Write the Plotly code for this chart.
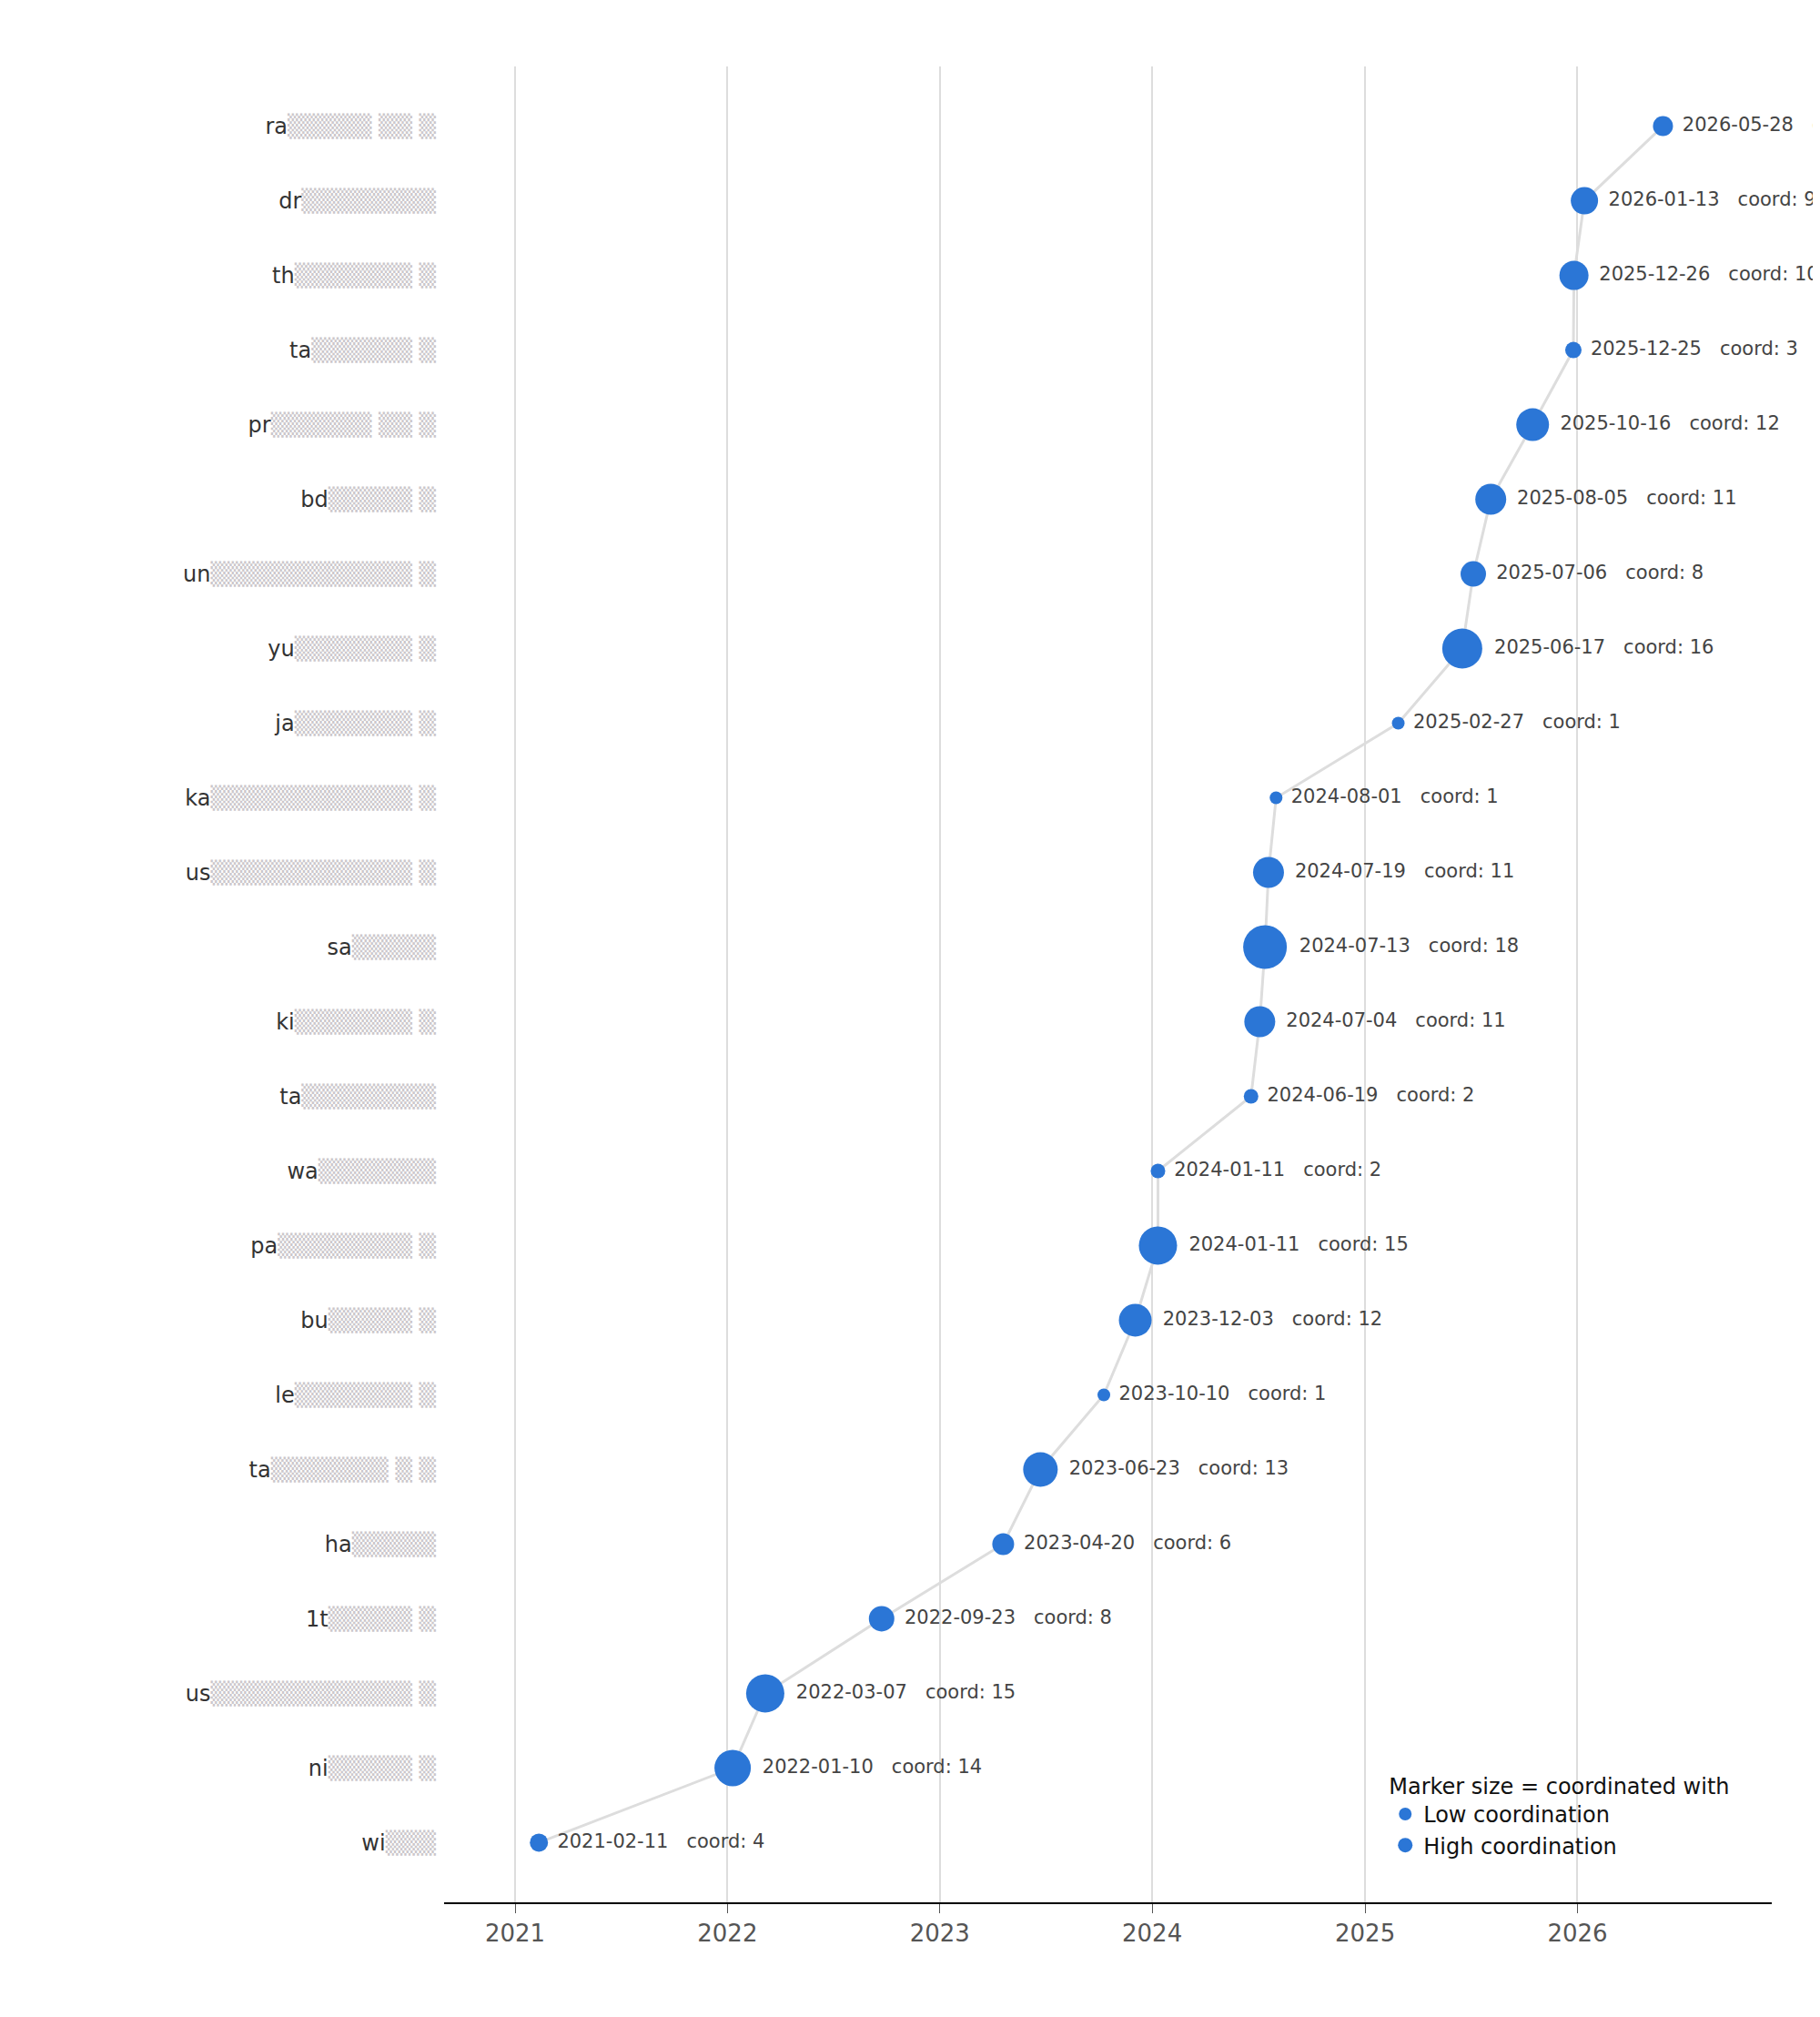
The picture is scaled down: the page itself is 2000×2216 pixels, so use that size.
import plotly.graph_objects as go

prefixes = ["wi", "ni", "us", "1t", "ha", "ta", "le", "bu", "pa", "wa", "ta", "ki", "sa", "us",
            "ka", "ja", "yu", "un", "bd", "pr", "ta", "th", "dr", "ra"]
masks = ["▒▒▒", "▒▒▒▒▒ ▒", "▒▒▒▒▒▒▒▒▒▒▒▒ ▒", "▒▒▒▒▒ ▒", "▒▒▒▒▒", "▒▒▒▒▒▒▒ ▒ ▒", "▒▒▒▒▒▒▒ ▒",
         "▒▒▒▒▒ ▒", "▒▒▒▒▒▒▒▒ ▒", "▒▒▒▒▒▒▒", "▒▒▒▒▒▒▒▒", "▒▒▒▒▒▒▒ ▒", "▒▒▒▒▒", "▒▒▒▒▒▒▒▒▒▒▒▒ ▒",
         "▒▒▒▒▒▒▒▒▒▒▒▒ ▒", "▒▒▒▒▒▒▒ ▒", "▒▒▒▒▒▒▒ ▒", "▒▒▒▒▒▒▒▒▒▒▒▒ ▒", "▒▒▒▒▒ ▒", "▒▒▒▒▒▒ ▒▒ ▒",
         "▒▒▒▒▒▒ ▒", "▒▒▒▒▒▒▒ ▒", "▒▒▒▒▒▒▒▒", "▒▒▒▒▒ ▒▒ ▒"]
dates = ["2021-02-11", "2022-01-10", "2022-03-07", "2022-09-23", "2023-04-20", "2023-06-23",
         "2023-10-10", "2023-12-03", "2024-01-11", "2024-01-11", "2024-06-19", "2024-07-04",
         "2024-07-13", "2024-07-19", "2024-08-01", "2025-02-27", "2025-06-17", "2025-07-06",
         "2025-08-05", "2025-10-16", "2025-12-25", "2025-12-26", "2026-01-13", "2026-05-28"]
coord = [4, 14, 15, 8, 6, 13, 1, 12, 15, 2, 2, 11, 18, 11, 1, 1, 16, 8, 11, 12, 3, 10, 9, 5]

ypos = list(range(len(dates)))
sizes = [12 + c * 2.0 for c in coord]
labels = [f"{d}   coord: {c}" for d, c in zip(dates, coord)]
ticktext = [f"{p}<span style='color:#cbc7cb'>{m}</span>" for p, m in zip(prefixes, masks)]
blue = "#2b76d6"

fig = go.Figure()
fig.add_trace(go.Scatter(x=dates, y=ypos, mode="lines", line=dict(color="#dddddd", width=3),
                         showlegend=False, hoverinfo="skip"))
fig.add_trace(go.Scatter(x=dates, y=ypos, mode="markers+text", text=[" " + t for t in labels],
                         textposition="middle right",
                         textfont=dict(size=21, color="#444444", family="DejaVu Sans"),
                         marker=dict(size=sizes, color=blue, opacity=1, line=dict(width=0)),
                         cliponaxis=False, showlegend=False))
fig.add_trace(go.Scatter(x=[None], y=[None], mode="markers", name="Low coordination",
                         marker=dict(size=14, color=blue, opacity=1)))
fig.add_trace(go.Scatter(x=[None], y=[None], mode="markers", name="High coordination",
                         marker=dict(size=30, color=blue, opacity=1)))

fig.update_layout(
    width=2000, height=2216, plot_bgcolor="white", paper_bgcolor="white",
    margin=dict(l=480, r=61, t=65, b=134),
    font=dict(family="DejaVu Sans", color="#333333"),
    legend=dict(title=dict(text="Marker size = coordinated with", font=dict(size=24, color="#111")),
                font=dict(size=24, color="#111"), x=0.97, y=0.02, xanchor="right", yanchor="bottom",
                bgcolor="rgba(255,255,255,0)", itemsizing="trace", tracegroupgap=6),
)
fig.update_xaxes(type="date", range=["2020-09-01", "2026-12-01"], showgrid=True, gridcolor="#dddddd",
                 gridwidth=2, dtick="M12", tickformat="%Y", tickfont=dict(size=26, color="#555"),
                 showline=True, linecolor="black", linewidth=2, ticks="outside", ticklen=10,
                 tickcolor="#555", zeroline=False)
fig.update_yaxes(range=[-0.8, len(dates) - 0.2], tickvals=ypos, ticktext=ticktext,
                 tickfont=dict(size=24, color="#333"), showgrid=False, zeroline=False, showline=False,
                 ticks="", ticklabelstandoff=8)
fig.write_html("out.html")
